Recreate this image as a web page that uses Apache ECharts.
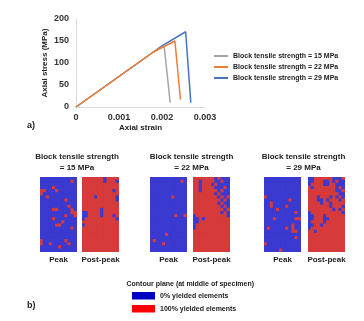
<!DOCTYPE html>
<html><head><meta charset="utf-8">
<script src="https://cdn.jsdelivr.net/npm/echarts@6/dist/echarts.min.js"></script>
<style>html,body{margin:0;padding:0;background:#fff}#c{width:364px;height:321px}</style>
</head><body><div id="c"></div>
<script>
// ---- line chart data (a) ----
const seriesNames = ['Block tensile strength = 15 MPa', 'Block tensile strength = 22 MPa', 'Block tensile strength = 29 MPa'];
const strain15 = [0, 0.0018, 0.00205, 0.00219];
const stress15 = [0, 125, 139, 10];
const strain22 = [0, 0.0018, 0.0023, 0.00243];
const stress22 = [0, 125, 150, 17];
const strain29 = [0, 0.0018, 0.00198, 0.00255, 0.00267];
const stress29 = [0, 125, 138, 171, 10];
const xTicks = [0, 0.001, 0.002, 0.003];
const yTicks = [0, 50, 100, 150, 200];

// ---- contour panels (b): rows top->bottom, 1 = yielded (red), 0 = not yielded (blue) ----
const panelTitles = ['Block tensile strength\n= 15 MPa', 'Block tensile strength\n= 22 MPa', 'Block tensile strength\n= 29 MPa'];
const stateLabels = ['Peak', 'Post-peak'];
const p15Peak = [
'000000000000','000000000010','000000000000','000010000000','110001000000','100000000000',
'001000000000','000000001000','000000000000','000000000100','000011000010','000000000011',
'000000001001','000010000000','000000010000','000001100000','000000000010','000000000000',
'000000000000','000000000000','100000001000','100100000100','000000100000','000000000000'];
const p15Post = [
'111111101111','111111101110','111111111111','111111111111','111111111101','111111111111',
'111101111110','111111111110','111111111111','111111111111','111111011111','001111011111',
'001111011101','011111111110','111111111111','011111111111','111111111111','111111111111',
'111111111111','111111111111','111111111111','111111111111','111111111111','111111111111'];
const p22Peak = [
'000000000000','000000000010','000000000000','000000000000','000000000000','000000000000',
'000000010000','000000000000','000000000000','000000000000','000000000000','000000000000',
'000000001001','000000000000','000000000000','000000000000','000000000000','000000000000',
'000001000000','000000000000','010000000000','000010000000','000000000000','000000000000'];
const p22Post = [
'111111101000','110111100100','110111010000','110111100010','110111110100','111111101000',
'111111110101','111111111010','111111110100','111111111010','111111111101','111111111010',
'011111111110','001011111111','001111111111','011111111111','011111111111','111111111111',
'111111111111','111111111111','111111111111','111111111111','111111111111','111111111111'];
const p29Peak = [
'000000000000','000000000000','000000000000','000000000000','000000000000','000000000000',
'100000000000','000000001000','001000000000','001000010000','000010000000','000000000010',
'000000000000','000100000011','000000000000','000000000100','010000010100','000000000110',
'000000000000','000000000010','000000000000','100000000000','000000000000','000001000000'];
const p29Post = [
'001111110001','001110010100','011110011000','101111111010','111111111001','111111111100',
'111011101010','111001011101','111101101111','111111101110','111111110101','011111111110',
'001110111111','001110011111','011110111111','001101111111','011111111111','110111111111',
'111111111111','111111111111','111111111111','111111111111','111111111111','111111111111'];
const panels = [p15Peak, p15Post, p22Peak, p22Post, p29Peak, p29Post];
const legendLabels = ['0% yielded elements', '100% yielded elements'];

// ---- styling / layout ----
const FF = '"Liberation Sans", Arial, sans-serif';
const CELL_COLORS = ['#3a3ad0', '#d63a3a'];
const panelLefts = [40, 82, 150, 193, 264, 308];
const titleCenters = [77, 191.5, 303.5];
const toData = (rows) => {
  const out = [];
  rows.forEach((r, y) => { for (let x = 0; x < r.length; x++) out.push([x, y, +r[x]]); });
  return out;
};
const colIdx = Array.from({length: 12}, (_, i) => i);
const rowIdx = Array.from({length: 24}, (_, i) => i);

const grids = [{left: 76, top: 19, width: 129, height: 88}];
const xAxes = [{
  gridIndex: 0, type: 'value', min: 0, max: 0.003, interval: 0.001,
  axisLine: {show: true, lineStyle: {color: '#d9d9d9', width: 1}},
  axisTick: {show: false}, splitLine: {show: false},
  axisLabel: {fontSize: 9, fontWeight: 'bold', color: '#333', fontFamily: FF, margin: 6,
    formatter: v => { const t = xTicks.find(k => Math.abs(k - v) < 1e-9); return t === 0 ? '0' : (t !== undefined ? t.toFixed(3) : ''); }},
  name: 'Axial strain', nameLocation: 'middle', nameGap: 17,
  nameTextStyle: {fontSize: 8, fontWeight: 'bold', color: '#222', fontFamily: FF}
}];
const yAxes = [{
  gridIndex: 0, type: 'value', min: yTicks[0], max: yTicks[yTicks.length - 1], interval: 50,
  axisLine: {show: true, lineStyle: {color: '#d9d9d9', width: 1}},
  axisTick: {show: false}, splitLine: {show: false},
  axisLabel: {fontSize: 9, fontWeight: 'bold', color: '#333', fontFamily: FF, margin: 7},
  name: 'Axial stress (MPa)', nameLocation: 'middle', nameGap: 27,
  nameTextStyle: {fontSize: 8, fontWeight: 'bold', color: '#222', fontFamily: FF}
}];
const series = [
  {name: seriesNames[0], type: 'line', xAxisIndex: 0, yAxisIndex: 0, z: 3, symbol: 'none',
   data: strain15.map((s, i) => [s, stress15[i]]), lineStyle: {color: '#a5a5a5', width: 1.5}, itemStyle: {color: '#a5a5a5'}},
  {name: seriesNames[1], type: 'line', xAxisIndex: 0, yAxisIndex: 0, z: 4, symbol: 'none',
   data: strain22.map((s, i) => [s, stress22[i]]), lineStyle: {color: '#ed7d31', width: 1.5}, itemStyle: {color: '#ed7d31'}},
  {name: seriesNames[2], type: 'line', xAxisIndex: 0, yAxisIndex: 0, z: 2, symbol: 'none',
   data: strain29.map((s, i) => [s, stress29[i]]), lineStyle: {color: '#4472c4', width: 1.5}, itemStyle: {color: '#4472c4'}}
];
const renderCell = (params, api) => {
  const p = api.coord([api.value(0), api.value(1)]);
  const s = api.size([1, 1]);
  const w = Math.abs(s[0]), h = Math.abs(s[1]);
  const x0 = params.coordSys.x, y0 = params.coordSys.y;
  const x1 = x0 + params.coordSys.width, y1 = y0 + params.coordSys.height;
  const left = Math.max(x0, p[0] - w / 2 - 0.4), top = Math.max(y0, p[1] - h / 2 - 0.4);
  const right = Math.min(x1, p[0] + w / 2 + 0.4), bottom = Math.min(y1, p[1] + h / 2 + 0.4);
  return {type: 'rect', shape: {x: left, y: top, width: right - left, height: bottom - top},
    style: {fill: CELL_COLORS[api.value(2)], stroke: null}};
};
panels.forEach((rows, i) => {
  const g = i + 1;
  grids.push({left: panelLefts[i], top: 177, width: 37, height: 75});
  xAxes.push({gridIndex: g, type: 'category', data: colIdx, axisLine: {show: false}, axisTick: {show: false},
    axisLabel: {show: false}, splitLine: {show: false},
    name: stateLabels[i % 2], nameLocation: 'middle', nameGap: 4,
    nameTextStyle: {fontSize: 8, fontWeight: 'bold', color: '#222', fontFamily: FF, verticalAlign: 'top'}});
  yAxes.push({gridIndex: g, type: 'category', data: rowIdx, inverse: true, axisLine: {show: false},
    axisTick: {show: false}, axisLabel: {show: false}, splitLine: {show: false}});
  series.push({type: 'custom', xAxisIndex: g, yAxisIndex: g, data: toData(rows),
    renderItem: renderCell, encode: {x: 0, y: 1}, silent: true, animation: false});
});

const txt = (text, x, y, font, align) => ({
  type: 'text', x: x, y: y, silent: true,
  style: {text: text, font: font, fill: '#222', textAlign: align, align: align,
          textVerticalAlign: 'middle', verticalAlign: 'middle', lineHeight: 10.5}
});
const graphics = [
  txt('a)', 27, 126, 'bold 9px ' + FF, 'left'),
  txt('b)', 27, 306, 'bold 9px ' + FF, 'left'),
  txt('Contour plane (at middle of specimen)', 126.5, 284, 'bold 7px ' + FF, 'left'),
  {type: 'rect', shape: {x: 132, y: 292, width: 23, height: 7.5}, style: {fill: '#0000c0'}, silent: true},
  {type: 'rect', shape: {x: 132, y: 305, width: 23, height: 7.5}, style: {fill: '#ff0000'}, silent: true},
  txt(legendLabels[0], 160, 295.7, 'bold 7px ' + FF, 'left'),
  txt(legendLabels[1], 160, 308.7, 'bold 7px ' + FF, 'left')
];
panelTitles.forEach((t, i) => graphics.push(txt(t, titleCenters[i], 162.5, 'bold 8px ' + FF, 'center')));

const chart = echarts.init(document.getElementById('c'), null, {renderer: 'canvas'});
chart.setOption({
  animation: false,
  backgroundColor: '#fff',
  textStyle: {fontFamily: FF},
  grid: grids,
  xAxis: xAxes,
  yAxis: yAxes,
  legend: {
    data: seriesNames, orient: 'vertical', left: 209, top: 47, icon: 'rect',
    itemWidth: 14, itemHeight: 2, itemGap: 3, selectedMode: false,
    textStyle: {fontSize: 7, fontWeight: 'bold', color: '#222', fontFamily: FF, lineHeight: 8}
  },
  series: series,
  graphic: graphics
});
</script>
</body></html>
